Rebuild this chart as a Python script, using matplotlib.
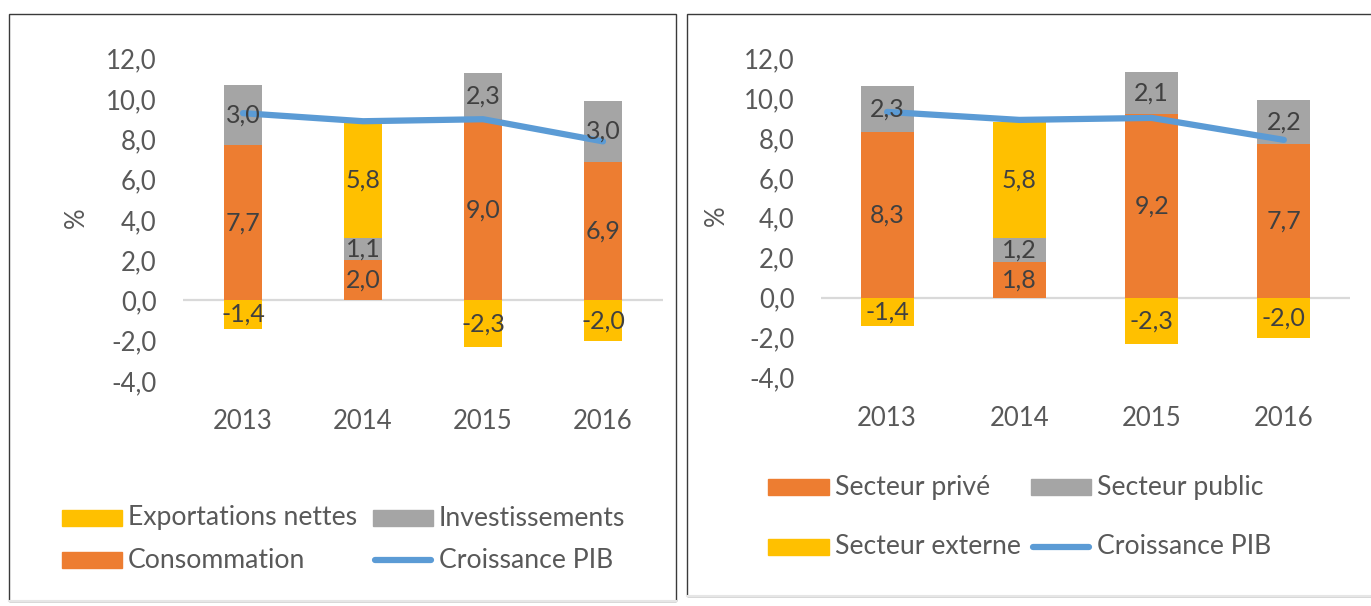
import matplotlib
matplotlib.use("Agg")
import matplotlib.pyplot as plt
from matplotlib.patches import Rectangle
from matplotlib.lines import Line2D
import numpy as np

plt.rcParams['font.family'] = ['Lato', 'DejaVu Sans']

years = ["2013", "2014", "2015", "2016"]

# Left panel
conso = [7.7, 2.0, 9.0, 6.9]
invest = [3.0, 1.1, 2.3, 3.0]
export_nettes = [-1.4, 5.8, -2.3, -2.0]
pib_left = [9.3, 8.9, 9.0, 7.9]

# Right panel
prive = [8.3, 1.8, 9.2, 7.7]
public = [2.3, 1.2, 2.1, 2.2]
externe = [-1.4, 5.8, -2.3, -2.0]
pib_right = [9.3, 8.9, 9.0, 7.9]

yticks = [-4, -2, 0, 2, 4, 6, 8, 10, 12]

ORANGE = "#ED7D31"
GRAY = "#A5A5A5"
YELLOW = "#FFC000"
BLUE = "#5B9BD5"
TXT = "#404040"
TICK = "#595959"
FS_TICK = 18.5
FS_LAB = 18
FS_LEG = 19.2

W, H = 1371, 606
fig = plt.figure(figsize=(W / 100, H / 100), dpi=100)


def fx(px):
    return px / W


def fy(py):
    return 1 - py / H


def draw_panel(ax, s1, s1c, s2, s2c, s3, s3c, pib, width):
    x = np.arange(len(years))
    s1 = np.array(s1, float)
    s2 = np.array(s2, float)
    s3 = np.array(s3, float)
    # stacking: positive values pile up, negative below zero
    pos_base = np.zeros(len(x))
    neg_base = np.zeros(len(x))
    for vals, col in ((s1, s1c), (s2, s2c), (s3, s3c)):
        bottoms = np.where(vals >= 0, pos_base, neg_base)
        ax.bar(x, vals, width, bottom=bottoms, color=col, zorder=2)
        for xi, v, b in zip(x, vals, bottoms):
            ax.text(xi, b + v / 2, f"{v:.1f}".replace(".", ","), ha="center",
                    va="center", fontsize=FS_LAB, color=TXT, zorder=5)
        pos_base = np.where(vals >= 0, pos_base + vals, pos_base)
        neg_base = np.where(vals < 0, neg_base + vals, neg_base)
    ax.plot(x, pib, color=BLUE, lw=4.5, solid_capstyle="round", zorder=4)
    ax.axhline(0, color="#D9D9D9", lw=1.6, zorder=1)
    ax.set_xlim(-0.5, len(years) - 0.5)
    ax.set_ylim(-4, 12)
    ax.set_yticks(yticks)
    ax.set_yticklabels([f"{t:.1f}".replace(".", ",") for t in yticks])
    ax.set_xticks(x)
    ax.set_xticklabels(years)
    ax.tick_params(axis="y", length=0, pad=19, labelsize=FS_TICK, labelcolor=TICK)
    ax.tick_params(axis="x", length=0, pad=20.5, labelsize=FS_TICK, labelcolor=TICK)
    for s in ax.spines.values():
        s.set_visible(False)
    ax.patch.set_alpha(0)


# panel borders
fig.patches.append(Rectangle((fx(9), fy(601)), fx(676) - fx(9), fy(14) - fy(601),
                             transform=fig.transFigure, fill=False,
                             edgecolor="#3a3a3a", lw=1.0))
fig.patches.append(Rectangle((fx(687), fy(596)), fx(1380) - fx(687), fy(14) - fy(596),
                             transform=fig.transFigure, fill=False,
                             edgecolor="#3a3a3a", lw=1.0))
fig.lines.append(Line2D([fx(9), fx(676)], [fy(601), fy(601)], transform=fig.transFigure,
                        color="#E6E6E6", lw=1.5))
fig.lines.append(Line2D([fx(687), fx(1371)], [fy(596), fy(596)], transform=fig.transFigure,
                        color="#E6E6E6", lw=1.5))

# Left axes
axL = fig.add_axes([fx(183), fy(381), fx(663) - fx(183), fy(58.8) - fy(381)])
draw_panel(axL, conso, ORANGE, invest, GRAY, export_nettes, YELLOW, pib_left, 0.32)
fig.text(fx(76), fy(218), "%", rotation=90, ha="center", va="center",
         fontsize=FS_TICK, color=TICK)

# Right axes
axR = fig.add_axes([fx(821), fy(377.5), fx(1350) - fx(821), fy(58) - fy(377.5)])
draw_panel(axR, prive, ORANGE, public, GRAY, externe, YELLOW, pib_right, 0.40)
fig.text(fx(716), fy(216), "%", rotation=90, ha="center", va="center",
         fontsize=FS_TICK, color=TICK)


def legend_item(x0, x1, y, label, color, kind="patch"):
    if kind == "patch":
        h = 16
        fig.patches.append(Rectangle((fx(x0), fy(y + h / 2)), fx(x1) - fx(x0),
                                     fy(y - h / 2) - fy(y + h / 2),
                                     transform=fig.transFigure, color=color))
    else:
        fig.lines.append(Line2D([fx(x0 + 2), fx(x1 - 2)], [fy(y), fy(y)],
                                transform=fig.transFigure, color=color, lw=4.5,
                                solid_capstyle="round"))
    fig.text(fx(x1 + 6), fy(y), label, ha="left", va="center", fontsize=FS_LEG, color=TICK)


# Left legend
legend_item(62, 122, 518, "Exportations nettes", YELLOW)
legend_item(373, 433, 518, "Investissements", GRAY)
legend_item(62, 122, 560, "Consommation", ORANGE)
legend_item(373, 433, 560, "Croissance PIB", BLUE, kind="line")

# Right legend
legend_item(768, 829, 487, "Secteur privé", ORANGE)
legend_item(1031, 1091, 487, "Secteur public", GRAY)
legend_item(768, 829, 547, "Secteur externe", YELLOW)
legend_item(1031, 1091, 547, "Croissance PIB", BLUE, kind="line")

fig.savefig("out.png", dpi=100)
